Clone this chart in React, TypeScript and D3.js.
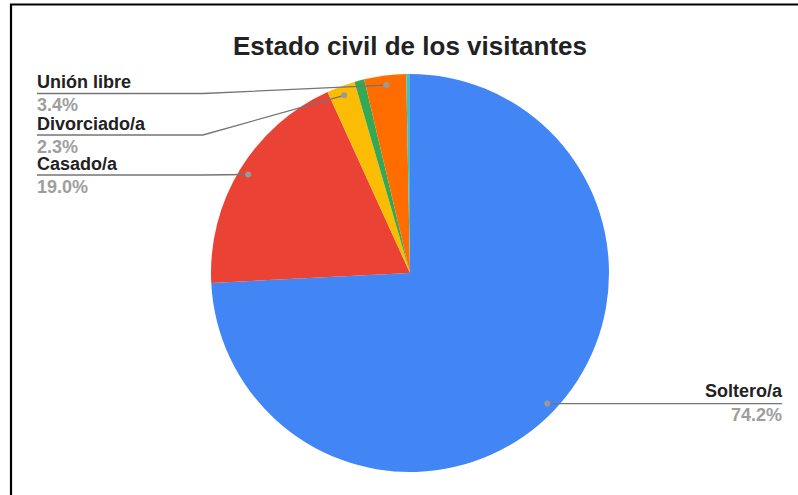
import React from "react";
import * as d3 from "d3";

const categories = ["Soltero/a", "Casado/a", "Divorciado/a", "Otro", "Unión libre", "Otro 2"];
const values = [74.2, 19.0, 2.3, 0.8, 3.4, 0.3];
const colors = ["#4285F4", "#EA4335", "#FBBC04", "#34A853", "#FF6D01", "#46BDC6"];
const labelled = ["Soltero/a", "Casado/a", "Divorciado/a", "Unión libre"];
const title = "Estado civil de los visitantes";

const W = 798;
const H = 495;
const cx = 410;
const cy = 273;
const R = 199;

// label layout (left side underline y, right side)
const leftLabelY: Record<string, number> = {
  "Unión libre": 93.5,
  "Divorciado/a": 135,
  "Casado/a": 175,
};

export default function App() {
  const total = d3.sum(values);
  const pie = d3.pie<number>().sort(null).value((d) => d);
  const arcs = pie(values);
  const arcGen = d3.arc<d3.PieArcDatum<number>>().innerRadius(0).outerRadius(R);
  const dotArc = d3.arc<d3.PieArcDatum<number>>().innerRadius(R * 0.952).outerRadius(R * 0.952);
  const fmt = (v: number) => ((v / total) * 100).toFixed(1) + "%";
  const font = "'Liberation Sans', Arial, sans-serif";

  return (
    <svg
      width={W}
      height={H}
      style={{ position: "absolute", left: 0, top: 0, display: "block", background: "#fff" }}
    >
      <rect x={0} y={0} width={W} height={H} fill="#fff" />
      <path d={`M11,${H + 5} L11,4.5 L${W + 5},4.5`} fill="none" stroke="#000" strokeWidth={2.2} />
      <text
        x={cx}
        y={55}
        textAnchor="middle"
        fontFamily={font}
        fontWeight="bold"
        fontSize={26}
        fill="#222"
      >
        {title}
      </text>
      <g transform={`translate(${cx},${cy})`}>
        {arcs.map((a, i) => (
          <path key={i} d={arcGen(a) || ""} fill={colors[i]} />
        ))}
      </g>
      {arcs.map((a, i) => {
        const name = categories[i];
        if (!labelled.includes(name)) return null;
        const [dx, dy] = dotArc.centroid(a);
        const px = cx + dx;
        const py = cy + dy;
        if (name === "Soltero/a") {
          const tx = 782;
          return (
            <g key={i}>
              <line x1={px} y1={py} x2={tx} y2={py} stroke="#757575" strokeWidth={1.3} />
              <circle cx={px} cy={py} r={3} fill="#999" />
              <text x={tx} y={py - 6.5} textAnchor="end" fontFamily={font} fontWeight="bold" fontSize={18} fill="#222">
                {name}
              </text>
              <text x={tx} y={py + 17.5} textAnchor="end" fontFamily={font} fontWeight="bold" fontSize={18} fill="#9e9e9e">
                {fmt(values[i])}
              </text>
            </g>
          );
        }
        const ly = leftLabelY[name];
        const tx = 37;
        const elbow = 203;
        return (
          <g key={i}>
            <polyline
              points={`${tx},${ly} ${elbow},${ly} ${px},${py}`}
              fill="none"
              stroke="#757575"
              strokeWidth={1.3}
            />
            <circle cx={px} cy={py} r={3} fill="#999" />
            <text x={tx} y={ly - 5.5} fontFamily={font} fontWeight="bold" fontSize={18} fill="#222">
              {name}
            </text>
            <text x={tx} y={ly + 17.5} fontFamily={font} fontWeight="bold" fontSize={18} fill="#9e9e9e">
              {fmt(values[i])}
            </text>
          </g>
        );
      })}
    </svg>
  );
}
